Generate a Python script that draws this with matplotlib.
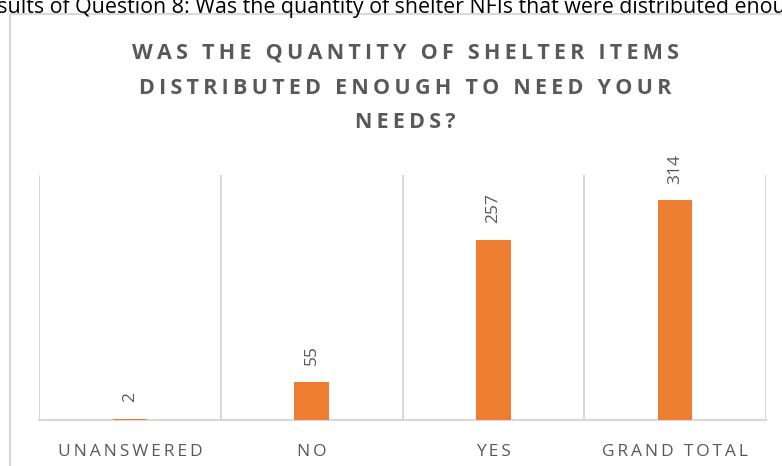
import matplotlib
matplotlib.use("Agg")
import matplotlib.pyplot as plt
from matplotlib.lines import Line2D

# ---------- datos ----------
categories = ["UNANSWERED", "NO", "YES", "GRAND TOTAL"]
counts = [2, 55, 257, 314]

title = "WAS THE QUANTITY OF SHELTER ITEMS\nDISTRIBUTED ENOUGH TO NEED YOUR\nNEEDS?"
caption = "Results of Question 8: Was the quantity of shelter NFIs that were distributed enough?"

ORANGE = "#ED7D31"
GREY_TXT = "#595959"
GREY_LN = "#D9D9D9"
FONTS = ["Open Sans", "DejaVu Sans"]


def spaced(s, sep="\u2009"):
    # simula el espaciado entre letras de Excel
    return "\n".join(sep.join(ch for ch in line) for line in s.split("\n"))


W, H = 782, 466
fig = plt.figure(figsize=(W / 100, H / 100), dpi=100)

# caja exterior del gráfico (recortada)
fig.add_artist(Line2D([10 / W, 10 / W], [0, 1 - 14 / H], color=GREY_LN, lw=1.5))
fig.add_artist(Line2D([10 / W, 1], [1 - 14 / H, 1 - 14 / H], color=GREY_LN, lw=1.5))

# pie de figura cortado arriba
fig.text(-28 / W, 1 - 8 / H, caption, ha="left", va="center", fontsize=15.4,
         color="black", family=FONTS)

ax = fig.add_axes([39 / W, 46 / H, (766 - 39) / W, (420 - 175) / H])
x = list(range(len(categories)))
bars = ax.bar(x, counts, width=0.19, color=ORANGE, zorder=3)

ax.set_xlim(-0.5, len(categories) - 0.5)
ax.set_ylim(0, 350)
ax.set_yticks([])
for s in ["top", "right", "left"]:
    ax.spines[s].set_visible(False)
ax.spines["bottom"].set_color(GREY_LN)
ax.spines["bottom"].set_linewidth(1.5)

# separadores verticales entre categorías
for b in [i - 0.5 for i in range(len(categories) + 1)]:
    ax.axvline(b, color=GREY_LN, lw=1.5, zorder=1)

ax.set_xticks(x)
ax.set_xticklabels([spaced(c, "\u2009") for c in categories], fontsize=12.5,
                   color=GREY_TXT, family=FONTS)
ax.tick_params(axis="x", length=0, pad=17)

for xi, v in zip(x, counts):
    ax.annotate(str(v), (xi, v), xytext=(0, 12), textcoords="offset points",
                ha="center", va="bottom", rotation=90, fontsize=12.5,
                color=GREY_TXT, family=FONTS)

fig.text(405 / W, 1 - 88 / H, spaced(title, "\u2009"), ha="center", va="center",
         fontsize=15.5, fontweight="bold", color=GREY_TXT, family=FONTS,
         linespacing=1.85)

fig.savefig("out.png", dpi=100)
